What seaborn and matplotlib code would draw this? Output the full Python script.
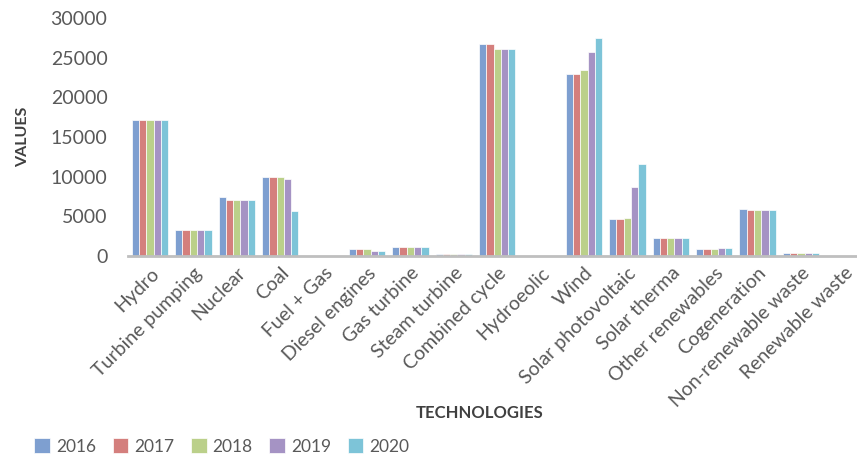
import matplotlib
matplotlib.use("Agg")
import matplotlib.pyplot as plt
import seaborn as sns
import pandas as pd

technologies = ["Hydro", "Turbine pumping", "Nuclear", "Coal", "Fuel + Gas",
                "Diesel engines", "Gas turbine", "Steam turbine", "Combined cycle",
                "Hydroeolic", "Wind", "Solar photovoltaic", "Solar therma",
                "Other renewables", "Cogeneration", "Non-renewable waste",
                "Renewable waste"]
years = ["2016", "2017", "2018", "2019", "2020"]

v2016 = [17100, 3300, 7400, 9900, 0, 850, 1100, 300, 26650, 0, 22950, 4650, 2250, 850, 5950, 400, 0]
v2017 = [17100, 3300, 7050, 9900, 0, 850, 1100, 300, 26650, 0, 22950, 4650, 2250, 850, 5850, 400, 0]
v2018 = [17100, 3300, 7050, 9900, 0, 850, 1100, 300, 26100, 0, 23450, 4800, 2250, 850, 5850, 400, 0]
v2019 = [17100, 3300, 7050, 9650, 0, 650, 1100, 300, 26100, 0, 25700, 8700, 2250, 1000, 5750, 400, 0]
v2020 = [17100, 3300, 7050, 5700, 0, 650, 1100, 300, 26100, 0, 27500, 11600, 2250, 1000, 5750, 400, 0]

colors = ["#7E9FD0", "#D47F7D", "#BBD08A", "#A593C4", "#7DC4D8"]

series = [v2016, v2017, v2018, v2019, v2020]
rows = []
for y, vals in zip(years, series):
    for t, v in zip(technologies, vals):
        rows.append({"tech": t, "year": y, "value": v})
df = pd.DataFrame(rows)

sns.set_style("white")
plt.rcParams["font.family"] = ["Lato", "DejaVu Sans"]

fig = plt.figure(figsize=(8.57, 4.58), dpi=100)
ax = fig.add_axes([0.1497, 0.441, 0.8503, 0.520])

sns.barplot(data=df, x="tech", y="value", hue="year", palette=colors,
            width=0.84, saturation=1, edgecolor="white", linewidth=0.5,
            errorbar=None, ax=ax, legend=True)

ax.set_ylim(0, 30000)
ax.set_xlim(-0.5, 16.29)
ax.set_yticks(range(0, 30001, 5000))
ax.tick_params(axis="x", length=0, labelsize=14, pad=6)
ax.tick_params(axis="y", length=0, labelsize=14, pad=15)
plt.setp(ax.get_xticklabels(), rotation=45, ha="right", rotation_mode="anchor")
for lab in ax.get_xticklabels() + ax.get_yticklabels():
    lab.set_color("#595959")

for s in ["left", "right", "top"]:
    ax.spines[s].set_visible(False)
ax.spines["bottom"].set_color("#BFBFBF")
ax.spines["bottom"].set_linewidth(2)

ax.set_ylabel("VALUES", fontsize=11.5, fontweight="bold", color="#404040", labelpad=15)
ax.set_xlabel("")
fig.text(0.56, 0.098, "TECHNOLOGIES", fontsize=12, fontweight="bold",
         color="#404040", ha="center", va="center")

handles, labels = ax.get_legend_handles_labels()
ax.get_legend().remove()
fig.legend(handles, labels, loc="center left", bbox_to_anchor=(0.022, 0.025),
           ncol=5, frameon=False, fontsize=12.5, handlelength=0.9, handleheight=0.9,
           handletextpad=0.35, columnspacing=0.95, labelcolor="#595959")

fig.savefig("out.png", dpi=100)
